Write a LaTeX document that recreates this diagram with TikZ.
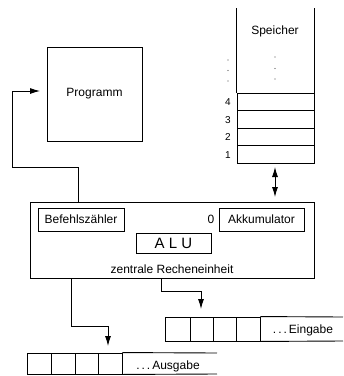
\documentclass[tikz,border=0pt]{standalone}
\usepackage{fontspec}
\setmainfont{Liberation Sans}
\usetikzlibrary{arrows.meta}
\begin{document}
\begin{tikzpicture}[x=1pt,y=-1pt,
  every node/.style={font=\fontsize{12}{14}\selectfont, inner sep=0pt},
  box/.style={draw, line width=0.9pt, rectangle},
  cell/.style={draw, line width=0.9pt, rectangle, minimum width=77pt, minimum height=17.5pt},
  ln/.style={line width=0.9pt},
  tip/.style={Latex[length=10pt,width=6pt]},
  arr/.style={line width=0.9pt, -{Latex[length=10pt,width=6pt]}},
  dotmark/.style={fill=black!70, draw=none, circle, minimum size=1.3pt},
  numlbl/.style={font=\fontsize{10}{12}\selectfont, anchor=center}]
\useasboundingbox (0,0) rectangle (344,376);

% Programm
\node[box, minimum width=95pt, minimum height=94pt] (prog) at (94.5,94) {Programm};

% Speicher
\node[cell] (m4) at (275.5,101.75) {};
\node[cell] (m3) at (275.5,119.25) {};
\node[cell] (m2) at (275.5,136.75) {};
\node[cell] (m1) at (275.5,154.25) {};
\draw[ln] (m4.north west) -- ++(0,-85);
\draw[ln] (m4.north east) -- ++(0,-85);
\node (speicher) at (275,31) {Speicher};
\node[dotmark] (d1) at (275,57) {};
\node[dotmark] (d2) at (275,68.5) {};
\node[dotmark] (d3) at (275,79) {};
\node[dotmark] (e1) at (228,60) {};
\node[dotmark] (e2) at (228,70.5) {};
\node[dotmark] (e3) at (228,81) {};
\node[numlbl] (n4) at (228,102.5) {4};
\node[numlbl] (n3) at (228,120) {3};
\node[numlbl] (n2) at (228,137.5) {2};
\node[numlbl] (n1) at (228,155) {1};

% CPU
\node[box, minimum width=284pt, minimum height=76pt] (cpu) at (172,240) {};
\node[box, minimum width=86pt, minimum height=23pt] (bz) at (81,219.5) {Befehlszähler};
\node[box, minimum width=85pt, minimum height=23pt] (akk) at (261.5,219.5) {Akkumulator};
\node (null) at (211,219) {0};
\node[box, minimum width=75pt, minimum height=20pt, font=\fontsize{15}{17}\selectfont] (alu) at (173.5,243) {A L U};
\node (zr) at (172,269) {zentrale Recheneinheit};

% memory <-> cpu
\coordinate (mtop) at (275,167);
\coordinate (mbot) at (275,197);
\draw[line width=0.9pt, {Latex[length=10pt,width=6pt]}-{Latex[length=10pt,width=6pt]}] (mtop) -- (mbot);

% cpu -> Programm
\coordinate (pc) at (78,202);
\coordinate (pin) at (40,91);
\draw[arr] (pc) -- (78,167) -- (12,167) |- (pin);

% Eingabe
\node[box, minimum width=25pt, minimum height=24pt] (i1) at (177.5,329) {};
\node[box, minimum width=23pt, minimum height=24pt] (i2) at (201.5,329) {};
\node[box, minimum width=23pt, minimum height=24pt] (i3) at (224.5,329) {};
\node[box, minimum width=24pt, minimum height=24pt] (i4) at (248,329) {};
\draw[ln] (i4.north east) -- (343,317);
\draw[ln] (i4.south east) -- (343,341);
\node (ein) at (303,330) {.\,.\,.\,Eingabe};

% Ausgabe
\node[box, minimum width=24pt, minimum height=21pt] (o1) at (39,363.5) {};
\node[box, minimum width=24pt, minimum height=21pt] (o2) at (63,363.5) {};
\node[box, minimum width=23pt, minimum height=21pt] (o3) at (86.5,363.5) {};
\node[box, minimum width=24pt, minimum height=21pt] (o4) at (110,363.5) {};
\draw[ln] (o4.north east) -- (217,353);
\draw[ln] (o4.south east) -- (217,374);
\node (aus) at (168,366) {.\,.\,.\,Ausgabe};

% cpu -> outputs
\coordinate (co) at (71,278);
\coordinate (ci) at (161,278);
\coordinate (oin) at (108,346);
\coordinate (iin) at (201,309);
\draw[arr] (co) -- (71,326) -| (oin);
\draw[arr] (ci) -- (161,291) -| (iin);
\end{tikzpicture}
\end{document}
